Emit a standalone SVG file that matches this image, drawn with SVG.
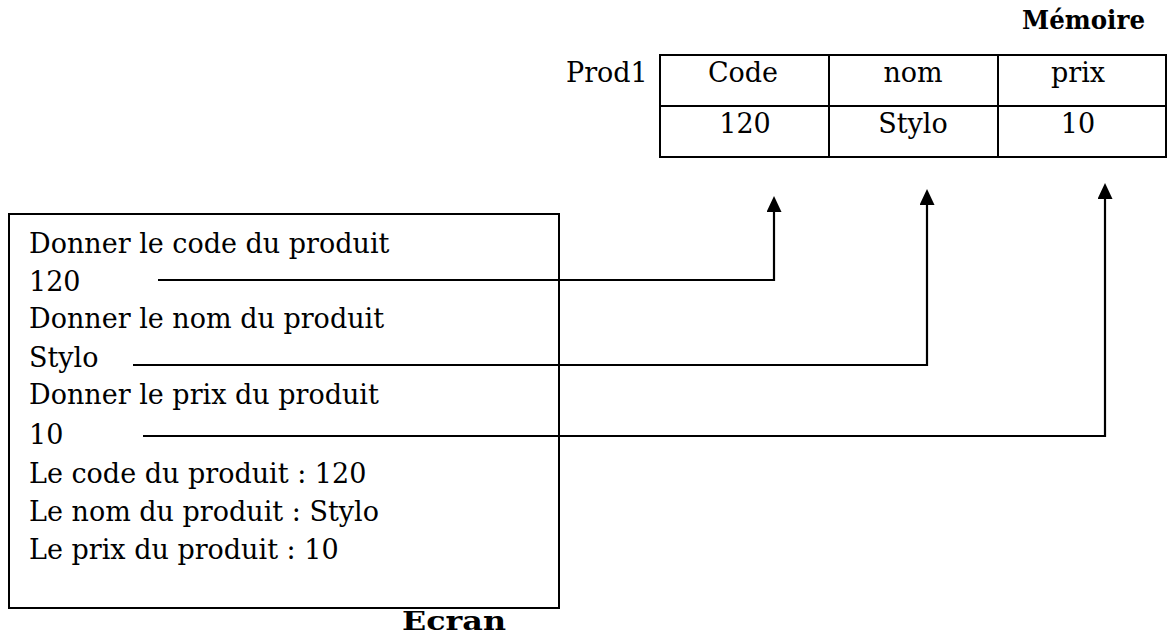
<svg xmlns="http://www.w3.org/2000/svg" width="1170" height="634" viewBox="0 0 1170 634">
<style>
.t{font-family:"DejaVu Serif","Liberation Serif",serif;font-size:27px;fill:#000}
.b{font-family:"DejaVu Serif","Liberation Serif",serif;font-size:26px;font-weight:bold;fill:#000}
.box{fill:none;stroke:#000;stroke-width:2}
.c{fill:none;stroke:#000;stroke-width:2.2}
</style>
<defs>
<marker id="ah" markerWidth="15" markerHeight="16" refX="7.5" refY="16" orient="0" markerUnits="userSpaceOnUse">
<path d="M0,16 L7.5,0 L15,16 Z" fill="#000"/>
</marker>
</defs>
<g id="memoire">
<text class="b" x="1022" y="29" textLength="123" lengthAdjust="spacingAndGlyphs">Mémoire</text>
<text class="t" x="566" y="82">Prod1</text>
<rect class="box" x="660" y="55" width="506" height="102"/>
<line class="box" x1="660" y1="106" x2="1166" y2="106"/>
<line class="box" x1="829" y1="55" x2="829" y2="157"/>
<line class="box" x1="998" y1="55" x2="998" y2="157"/>
<text class="t" x="743" y="82" text-anchor="middle">Code</text>
<text class="t" x="913" y="82" text-anchor="middle">nom</text>
<text class="t" x="1078" y="82" text-anchor="middle">prix</text>
<text class="t" x="745" y="133" text-anchor="middle">120</text>
<text class="t" x="913" y="133" text-anchor="middle">Stylo</text>
<text class="t" x="1078" y="133" text-anchor="middle">10</text>
</g>
<g id="ecran">
<rect class="box" x="9" y="214" width="550" height="394"/>
<text class="t" x="29" y="253">Donner le code du produit</text>
<text class="t" x="29" y="291">120</text>
<text class="t" x="29" y="328">Donner le nom du produit</text>
<text class="t" x="29" y="367">Stylo</text>
<text class="t" x="29" y="404">Donner le prix du produit</text>
<text class="t" x="29" y="444">10</text>
<text class="t" x="29" y="483">Le code du produit : 120</text>
<text class="t" x="29" y="521">Le nom du produit : Stylo</text>
<text class="t" x="29" y="559">Le prix du produit : 10</text>
<text class="b" x="402" y="630" textLength="104" lengthAdjust="spacingAndGlyphs">Ecran</text>
</g>
<g id="connectors">
<polyline class="c" points="158,280 774,280 774,212" marker-end="url(#ah)"/>
<polyline class="c" points="133,365 927,365 927,205" marker-end="url(#ah)"/>
<polyline class="c" points="143,436 1105,436 1105,199" marker-end="url(#ah)"/>
</g>
</svg>
